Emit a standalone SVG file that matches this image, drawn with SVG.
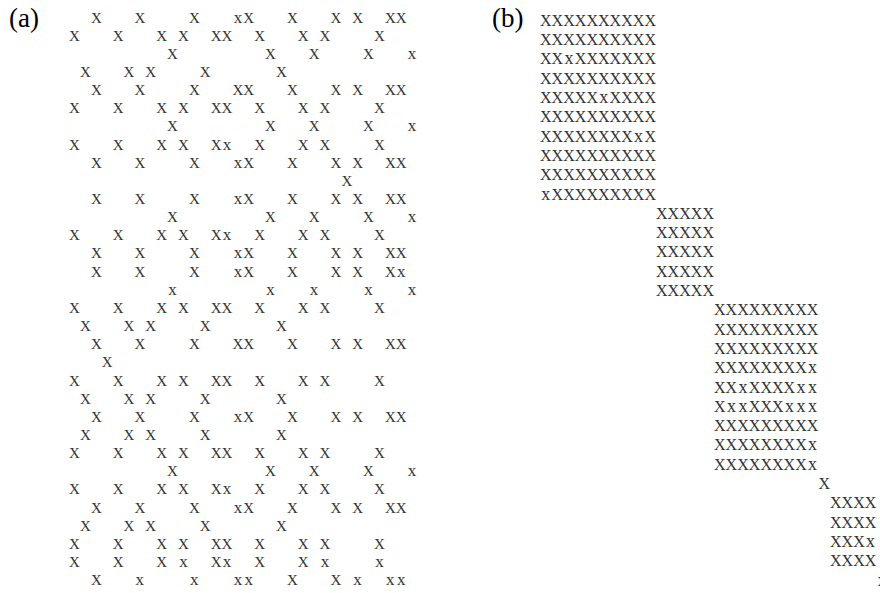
<svg xmlns="http://www.w3.org/2000/svg" width="880" height="593" viewBox="0 0 880 593">
<style>
.lbl{font-family:"Liberation Serif","Times New Roman",serif;font-size:27px;fill:#000}
.a{font-family:"Liberation Serif","Times New Roman",serif;font-size:15px;fill:#333;text-anchor:middle;white-space:pre}
.b{font-family:"Liberation Serif","Times New Roman",serif;font-size:16px;fill:#333;text-anchor:middle;white-space:pre}
.a .l{font-size:17px}
.b .l{font-size:18px}
</style>
<rect width="880" height="593" fill="#fff"/>
<g id="panel-a" xml:space="preserve">
<text class="lbl" x="9" y="27">(a)</text>
<text class="a" y="22.5" x="74.5 85.4 96.3 107.2 118.1 129 139.8 150.7 161.6 172.5 183.4 194.3 205.2 216.1 227 237.9 248.7 259.6 270.5 281.4 292.3 303.2 314.1 325 335.9 346.8 357.6 368.5 379.4 390.3 401.2 412.1">  X   X    X   <tspan class="l">x</tspan>X   X   X X  XX</text>
<text class="a" y="40.65" x="74.5 85.4 96.3 107.2 118.1 129 139.8 150.7 161.6 172.5 183.4 194.3 205.2 216.1 227 237.9 248.7 259.6 270.5 281.4 292.3 303.2 314.1 325 335.9 346.8 357.6 368.5 379.4 390.3 401.2 412.1">X   X   X X  XX  X   X X    X</text>
<text class="a" y="58.8" x="74.5 85.4 96.3 107.2 118.1 129 139.8 150.7 161.6 172.5 183.4 194.3 205.2 216.1 227 237.9 248.7 259.6 270.5 281.4 292.3 303.2 314.1 325 335.9 346.8 357.6 368.5 379.4 390.3 401.2 412.1">         X        X   X    X   <tspan class="l">x</tspan></text>
<text class="a" y="76.95" x="74.5 85.4 96.3 107.2 118.1 129 139.8 150.7 161.6 172.5 183.4 194.3 205.2 216.1 227 237.9 248.7 259.6 270.5 281.4 292.3 303.2 314.1 325 335.9 346.8 357.6 368.5 379.4 390.3 401.2 412.1"> X   X X    X      X</text>
<text class="a" y="95.1" x="74.5 85.4 96.3 107.2 118.1 129 139.8 150.7 161.6 172.5 183.4 194.3 205.2 216.1 227 237.9 248.7 259.6 270.5 281.4 292.3 303.2 314.1 325 335.9 346.8 357.6 368.5 379.4 390.3 401.2 412.1">  X   X    X   XX   X   X X  XX</text>
<text class="a" y="113.25" x="74.5 85.4 96.3 107.2 118.1 129 139.8 150.7 161.6 172.5 183.4 194.3 205.2 216.1 227 237.9 248.7 259.6 270.5 281.4 292.3 303.2 314.1 325 335.9 346.8 357.6 368.5 379.4 390.3 401.2 412.1">X   X   X X  XX  X   X X    X</text>
<text class="a" y="131.4" x="74.5 85.4 96.3 107.2 118.1 129 139.8 150.7 161.6 172.5 183.4 194.3 205.2 216.1 227 237.9 248.7 259.6 270.5 281.4 292.3 303.2 314.1 325 335.9 346.8 357.6 368.5 379.4 390.3 401.2 412.1">         X        X   X    X   <tspan class="l">x</tspan></text>
<text class="a" y="149.55" x="74.5 85.4 96.3 107.2 118.1 129 139.8 150.7 161.6 172.5 183.4 194.3 205.2 216.1 227 237.9 248.7 259.6 270.5 281.4 292.3 303.2 314.1 325 335.9 346.8 357.6 368.5 379.4 390.3 401.2 412.1">X   X   X X  X<tspan class="l">x</tspan>  X   X X    X</text>
<text class="a" y="167.7" x="74.5 85.4 96.3 107.2 118.1 129 139.8 150.7 161.6 172.5 183.4 194.3 205.2 216.1 227 237.9 248.7 259.6 270.5 281.4 292.3 303.2 314.1 325 335.9 346.8 357.6 368.5 379.4 390.3 401.2 412.1">  X   X    X   <tspan class="l">x</tspan>X   X   X X  XX</text>
<text class="a" y="185.85" x="346.8">X</text>
<text class="a" y="204" x="74.5 85.4 96.3 107.2 118.1 129 139.8 150.7 161.6 172.5 183.4 194.3 205.2 216.1 227 237.9 248.7 259.6 270.5 281.4 292.3 303.2 314.1 325 335.9 346.8 357.6 368.5 379.4 390.3 401.2 412.1">  X   X    X   <tspan class="l">x</tspan>X   X   X X  XX</text>
<text class="a" y="222.15" x="74.5 85.4 96.3 107.2 118.1 129 139.8 150.7 161.6 172.5 183.4 194.3 205.2 216.1 227 237.9 248.7 259.6 270.5 281.4 292.3 303.2 314.1 325 335.9 346.8 357.6 368.5 379.4 390.3 401.2 412.1">         X        X   X    X   <tspan class="l">x</tspan></text>
<text class="a" y="240.3" x="74.5 85.4 96.3 107.2 118.1 129 139.8 150.7 161.6 172.5 183.4 194.3 205.2 216.1 227 237.9 248.7 259.6 270.5 281.4 292.3 303.2 314.1 325 335.9 346.8 357.6 368.5 379.4 390.3 401.2 412.1">X   X   X X  X<tspan class="l">x</tspan>  X   X X    X</text>
<text class="a" y="258.45" x="74.5 85.4 96.3 107.2 118.1 129 139.8 150.7 161.6 172.5 183.4 194.3 205.2 216.1 227 237.9 248.7 259.6 270.5 281.4 292.3 303.2 314.1 325 335.9 346.8 357.6 368.5 379.4 390.3 401.2 412.1">  X   X    X   <tspan class="l">x</tspan>X   X   X X  XX</text>
<text class="a" y="276.6" x="74.5 85.4 96.3 107.2 118.1 129 139.8 150.7 161.6 172.5 183.4 194.3 205.2 216.1 227 237.9 248.7 259.6 270.5 281.4 292.3 303.2 314.1 325 335.9 346.8 357.6 368.5 379.4 390.3 401.2 412.1">  X   X    X   <tspan class="l">x</tspan>X   X   X X  X<tspan class="l">x</tspan></text>
<text class="a" y="294.75" x="74.5 85.4 96.3 107.2 118.1 129 139.8 150.7 161.6 172.5 183.4 194.3 205.2 216.1 227 237.9 248.7 259.6 270.5 281.4 292.3 303.2 314.1 325 335.9 346.8 357.6 368.5 379.4 390.3 401.2 412.1"><tspan class="l">         x        x   x    x   x</tspan></text>
<text class="a" y="312.9" x="74.5 85.4 96.3 107.2 118.1 129 139.8 150.7 161.6 172.5 183.4 194.3 205.2 216.1 227 237.9 248.7 259.6 270.5 281.4 292.3 303.2 314.1 325 335.9 346.8 357.6 368.5 379.4 390.3 401.2 412.1">X   X   X X  XX  X   X X    X</text>
<text class="a" y="331.05" x="74.5 85.4 96.3 107.2 118.1 129 139.8 150.7 161.6 172.5 183.4 194.3 205.2 216.1 227 237.9 248.7 259.6 270.5 281.4 292.3 303.2 314.1 325 335.9 346.8 357.6 368.5 379.4 390.3 401.2 412.1"> X   X X    X      X</text>
<text class="a" y="349.2" x="74.5 85.4 96.3 107.2 118.1 129 139.8 150.7 161.6 172.5 183.4 194.3 205.2 216.1 227 237.9 248.7 259.6 270.5 281.4 292.3 303.2 314.1 325 335.9 346.8 357.6 368.5 379.4 390.3 401.2 412.1">  X   X    X   XX   X   X X  XX</text>
<text class="a" y="367.35" x="107.2">X</text>
<text class="a" y="385.5" x="74.5 85.4 96.3 107.2 118.1 129 139.8 150.7 161.6 172.5 183.4 194.3 205.2 216.1 227 237.9 248.7 259.6 270.5 281.4 292.3 303.2 314.1 325 335.9 346.8 357.6 368.5 379.4 390.3 401.2 412.1">X   X   X X  XX  X   X X    X</text>
<text class="a" y="403.65" x="74.5 85.4 96.3 107.2 118.1 129 139.8 150.7 161.6 172.5 183.4 194.3 205.2 216.1 227 237.9 248.7 259.6 270.5 281.4 292.3 303.2 314.1 325 335.9 346.8 357.6 368.5 379.4 390.3 401.2 412.1"> X   X X    X      X</text>
<text class="a" y="421.8" x="74.5 85.4 96.3 107.2 118.1 129 139.8 150.7 161.6 172.5 183.4 194.3 205.2 216.1 227 237.9 248.7 259.6 270.5 281.4 292.3 303.2 314.1 325 335.9 346.8 357.6 368.5 379.4 390.3 401.2 412.1">  X   X    X   <tspan class="l">x</tspan>X   X   X X  XX</text>
<text class="a" y="439.95" x="74.5 85.4 96.3 107.2 118.1 129 139.8 150.7 161.6 172.5 183.4 194.3 205.2 216.1 227 237.9 248.7 259.6 270.5 281.4 292.3 303.2 314.1 325 335.9 346.8 357.6 368.5 379.4 390.3 401.2 412.1"> X   X X    X      X</text>
<text class="a" y="458.1" x="74.5 85.4 96.3 107.2 118.1 129 139.8 150.7 161.6 172.5 183.4 194.3 205.2 216.1 227 237.9 248.7 259.6 270.5 281.4 292.3 303.2 314.1 325 335.9 346.8 357.6 368.5 379.4 390.3 401.2 412.1">X   X   X X  XX  X   X X    X</text>
<text class="a" y="476.25" x="74.5 85.4 96.3 107.2 118.1 129 139.8 150.7 161.6 172.5 183.4 194.3 205.2 216.1 227 237.9 248.7 259.6 270.5 281.4 292.3 303.2 314.1 325 335.9 346.8 357.6 368.5 379.4 390.3 401.2 412.1">         X        X   X    X   <tspan class="l">x</tspan></text>
<text class="a" y="494.4" x="74.5 85.4 96.3 107.2 118.1 129 139.8 150.7 161.6 172.5 183.4 194.3 205.2 216.1 227 237.9 248.7 259.6 270.5 281.4 292.3 303.2 314.1 325 335.9 346.8 357.6 368.5 379.4 390.3 401.2 412.1">X   X   X X  X<tspan class="l">x</tspan>  X   X X    X</text>
<text class="a" y="512.55" x="74.5 85.4 96.3 107.2 118.1 129 139.8 150.7 161.6 172.5 183.4 194.3 205.2 216.1 227 237.9 248.7 259.6 270.5 281.4 292.3 303.2 314.1 325 335.9 346.8 357.6 368.5 379.4 390.3 401.2 412.1">  X   X    X   <tspan class="l">x</tspan>X   X   X X  XX</text>
<text class="a" y="530.7" x="74.5 85.4 96.3 107.2 118.1 129 139.8 150.7 161.6 172.5 183.4 194.3 205.2 216.1 227 237.9 248.7 259.6 270.5 281.4 292.3 303.2 314.1 325 335.9 346.8 357.6 368.5 379.4 390.3 401.2 412.1"> X   X X    X      X</text>
<text class="a" y="548.85" x="74.5 85.4 96.3 107.2 118.1 129 139.8 150.7 161.6 172.5 183.4 194.3 205.2 216.1 227 237.9 248.7 259.6 270.5 281.4 292.3 303.2 314.1 325 335.9 346.8 357.6 368.5 379.4 390.3 401.2 412.1">X   X   X X  XX  X   X X    X</text>
<text class="a" y="567" x="74.5 85.4 96.3 107.2 118.1 129 139.8 150.7 161.6 172.5 183.4 194.3 205.2 216.1 227 237.9 248.7 259.6 270.5 281.4 292.3 303.2 314.1 325 335.9 346.8 357.6 368.5 379.4 390.3 401.2 412.1">X   X   X <tspan class="l">x</tspan>  X<tspan class="l">x</tspan>  X   X <tspan class="l">x</tspan>    <tspan class="l">x</tspan></text>
<text class="a" y="585.15" x="74.5 85.4 96.3 107.2 118.1 129 139.8 150.7 161.6 172.5 183.4 194.3 205.2 216.1 227 237.9 248.7 259.6 270.5 281.4 292.3 303.2 314.1 325 335.9 346.8 357.6 368.5 379.4 390.3 401.2 412.1">  X   <tspan class="l">x</tspan>    <tspan class="l">x</tspan>   <tspan class="l">xx</tspan>   X   X <tspan class="l">x</tspan>  <tspan class="l">xx</tspan></text>
</g>
<g id="panel-b" xml:space="preserve">
<text class="lbl" x="492" y="27">(b)</text>
<text class="b" y="25.8" x="545.8 557.4 569 580.6 592.2 603.8 615.4 627 638.6 650.2">XXXXXXXXXX</text>
<text class="b" y="45.1" x="545.8 557.4 569 580.6 592.2 603.8 615.4 627 638.6 650.2">XXXXXXXXXX</text>
<text class="b" y="64.4" x="545.8 557.4 569 580.6 592.2 603.8 615.4 627 638.6 650.2">XX<tspan class="l">x</tspan>XXXXXXX</text>
<text class="b" y="83.7" x="545.8 557.4 569 580.6 592.2 603.8 615.4 627 638.6 650.2">XXXXXXXXXX</text>
<text class="b" y="103" x="545.8 557.4 569 580.6 592.2 603.8 615.4 627 638.6 650.2">XXXXX<tspan class="l">x</tspan>XXXX</text>
<text class="b" y="122.3" x="545.8 557.4 569 580.6 592.2 603.8 615.4 627 638.6 650.2">XXXXXXXXXX</text>
<text class="b" y="141.6" x="545.8 557.4 569 580.6 592.2 603.8 615.4 627 638.6 650.2">XXXXXXXX<tspan class="l">x</tspan>X</text>
<text class="b" y="160.9" x="545.8 557.4 569 580.6 592.2 603.8 615.4 627 638.6 650.2">XXXXXXXXXX</text>
<text class="b" y="180.2" x="545.8 557.4 569 580.6 592.2 603.8 615.4 627 638.6 650.2">XXXXXXXXXX</text>
<text class="b" y="199.5" x="545.8 557.4 569 580.6 592.2 603.8 615.4 627 638.6 650.2"><tspan class="l">x</tspan>XXXXXXXXX</text>
<text class="b" y="218.8" x="661.8 673.4 685 696.6 708.2">XXXXX</text>
<text class="b" y="238.1" x="661.8 673.4 685 696.6 708.2">XXXXX</text>
<text class="b" y="257.4" x="661.8 673.4 685 696.6 708.2">XXXXX</text>
<text class="b" y="276.7" x="661.8 673.4 685 696.6 708.2">XXXXX</text>
<text class="b" y="296" x="661.8 673.4 685 696.6 708.2">XXXXX</text>
<text class="b" y="315.3" x="719.8 731.4 743 754.6 766.2 777.8 789.4 801 812.6">XXXXXXXXX</text>
<text class="b" y="334.6" x="719.8 731.4 743 754.6 766.2 777.8 789.4 801 812.6">XXXXXXXXX</text>
<text class="b" y="353.9" x="719.8 731.4 743 754.6 766.2 777.8 789.4 801 812.6">XXXXXXXXX</text>
<text class="b" y="373.2" x="719.8 731.4 743 754.6 766.2 777.8 789.4 801 812.6">XXXXXXXX<tspan class="l">x</tspan></text>
<text class="b" y="392.5" x="719.8 731.4 743 754.6 766.2 777.8 789.4 801 812.6">XX<tspan class="l">x</tspan>XXXX<tspan class="l">xx</tspan></text>
<text class="b" y="411.8" x="719.8 731.4 743 754.6 766.2 777.8 789.4 801 812.6">X<tspan class="l">xx</tspan>XXX<tspan class="l">xxx</tspan></text>
<text class="b" y="431.1" x="719.8 731.4 743 754.6 766.2 777.8 789.4 801 812.6">XXXXXXXXX</text>
<text class="b" y="450.4" x="719.8 731.4 743 754.6 766.2 777.8 789.4 801 812.6">XXXXXXXX<tspan class="l">x</tspan></text>
<text class="b" y="469.7" x="719.8 731.4 743 754.6 766.2 777.8 789.4 801 812.6">XXXXXXXX<tspan class="l">x</tspan></text>
<text class="b" y="489" x="824.2">X</text>
<text class="b" y="508.3" x="835.8 847.4 859 870.6">XXXX</text>
<text class="b" y="527.6" x="835.8 847.4 859 870.6">XXXX</text>
<text class="b" y="546.9" x="835.8 847.4 859 870.6">XXX<tspan class="l">x</tspan></text>
<text class="b" y="566.2" x="835.8 847.4 859 870.6">XXXX</text>
<text class="b" y="585.5" x="882.2"><tspan class="l">x</tspan></text>
</g>
</svg>
